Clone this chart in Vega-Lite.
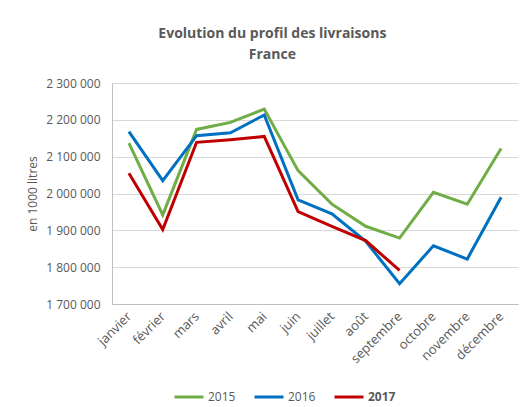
{
  "$schema": "https://vega.github.io/schema/vega-lite/v6.json",
  "autosize": {"type": "none"},
  "width": 406,
  "height": 221,
  "padding": {"left": 112, "top": 83, "right": 14, "bottom": 103},
  "background": "white",
  "title": {
    "text": ["Evolution du profil des livraisons", "France"],
    "font": "Open Sans",
    "fontSize": 14,
    "fontWeight": "bold",
    "color": "#595959",
    "anchor": "middle",
    "frame": "bounds",
    "lineHeight": 21,
    "offset": 15
  },
  "data": {
    "values": [
      {"mois": "janvier", "annee": "2015", "valeur": 2137000},
      {"mois": "février", "annee": "2015", "valeur": 1942000},
      {"mois": "mars", "annee": "2015", "valeur": 2174000},
      {"mois": "avril", "annee": "2015", "valeur": 2193000},
      {"mois": "mai", "annee": "2015", "valeur": 2229000},
      {"mois": "juin", "annee": "2015", "valeur": 2062000},
      {"mois": "juillet", "annee": "2015", "valeur": 1971000},
      {"mois": "août", "annee": "2015", "valeur": 1911000},
      {"mois": "septembre", "annee": "2015", "valeur": 1879000},
      {"mois": "octobre", "annee": "2015", "valeur": 2003000},
      {"mois": "novembre", "annee": "2015", "valeur": 1971000},
      {"mois": "décembre", "annee": "2015", "valeur": 2122000},
      {"mois": "janvier", "annee": "2016", "valeur": 2168000},
      {"mois": "février", "annee": "2016", "valeur": 2035000},
      {"mois": "mars", "annee": "2016", "valeur": 2157000},
      {"mois": "avril", "annee": "2016", "valeur": 2165000},
      {"mois": "mai", "annee": "2016", "valeur": 2213000},
      {"mois": "juin", "annee": "2016", "valeur": 1983000},
      {"mois": "juillet", "annee": "2016", "valeur": 1945000},
      {"mois": "août", "annee": "2016", "valeur": 1870000},
      {"mois": "septembre", "annee": "2016", "valeur": 1755000},
      {"mois": "octobre", "annee": "2016", "valeur": 1858000},
      {"mois": "novembre", "annee": "2016", "valeur": 1822000},
      {"mois": "décembre", "annee": "2016", "valeur": 1990000},
      {"mois": "janvier", "annee": "2017", "valeur": 2055000},
      {"mois": "février", "annee": "2017", "valeur": 1902000},
      {"mois": "mars", "annee": "2017", "valeur": 2139000},
      {"mois": "avril", "annee": "2017", "valeur": 2146000},
      {"mois": "mai", "annee": "2017", "valeur": 2155000},
      {"mois": "juin", "annee": "2017", "valeur": 1951000},
      {"mois": "juillet", "annee": "2017", "valeur": 1911000},
      {"mois": "août", "annee": "2017", "valeur": 1872000},
      {"mois": "septembre", "annee": "2017", "valeur": 1791000}
    ]
  },
  "mark": {"type": "line", "strokeWidth": 3, "strokeJoin": "miter"},
  "encoding": {
    "x": {
      "field": "mois",
      "type": "nominal",
      "sort": ["janvier","février","mars","avril","mai","juin","juillet","août","septembre","octobre","novembre","décembre"],
      "title": null,
      "axis": {
        "labelAngle": -45,
        "labelAlign": "right",
        "labelBaseline": "middle",
        "labelFont": "Open Sans",
        "labelFontSize": 13,
        "labelColor": "#595959",
        "labelPadding": 10,
        "ticks": false,
        "domainColor": "#bfbfbf",
        "grid": false
      }
    },
    "y": {
      "field": "valeur",
      "type": "quantitative",
      "scale": {"domain": [1700000, 2300000], "zero": false, "nice": false},
      "title": "en 1000 litres",
      "axis": {
        "values": [1700000, 1800000, 1900000, 2000000, 2100000, 2200000, 2300000],
        "labelExpr": "replace(format(datum.value, ',d'), regexp(',', 'g'), ' ')",
        "labelFont": "Open Sans",
        "labelFontSize": 12,
        "labelColor": "#595959",
        "labelPadding": 12,
        "ticks": false,
        "domainColor": "#bfbfbf",
        "gridColor": "#d9d9d9",
        "titleFont": "Open Sans",
        "titleFontSize": 12,
        "titleFontWeight": "normal",
        "titleColor": "#595959",
        "titlePadding": 6
      }
    },
    "color": {
      "field": "annee",
      "type": "nominal",
      "scale": {"domain": ["2015", "2016", "2017"], "range": ["#70ad47", "#0070c0", "#c00000"]},
      "legend": {
        "title": null,
        "orient": "none",
        "legendX": 61,
        "legendY": 298,
        "direction": "horizontal",
        "symbolType": "stroke",
        "symbolStrokeWidth": 3,
        "symbolSize": 841,
        "labelFont": "Open Sans",
        "labelFontSize": 12,
        "labelColor": "#595959",
        "labelOffset": 3,
        "columnPadding": 12,
        "encode": {
          "labels": {"update": {"fontWeight": {"signal": "datum.label == '2017' ? 'bold' : 'normal'"}}}
        }
      }
    }
  },
  "config": {
    "view": {"stroke": null}
  }
}
